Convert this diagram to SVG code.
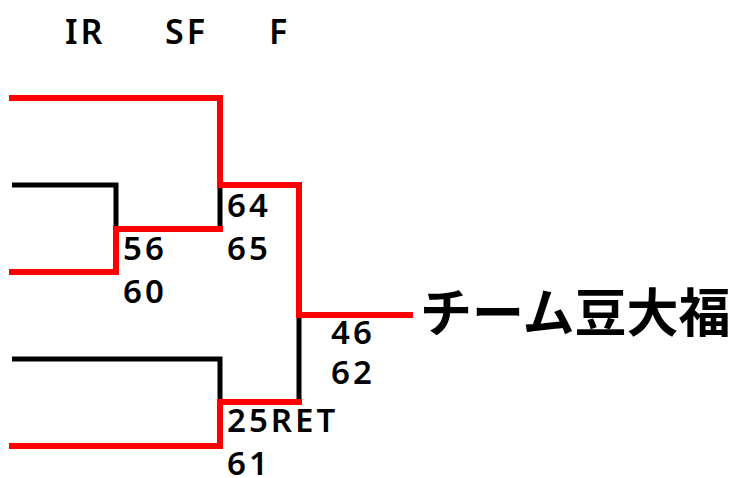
<svg xmlns="http://www.w3.org/2000/svg" width="732" height="478" viewBox="0 0 732 478">
<style>
.r{fill:none;stroke:#ff0000;stroke-width:6;stroke-linejoin:miter;stroke-linecap:square}
.k{fill:none;stroke:#000;stroke-width:5;stroke-linecap:butt}
.t{font-family:"Noto Sans","DejaVu Sans",sans-serif;font-size:33px;font-weight:600;fill:#000;letter-spacing:3px}
.h{font-family:"Noto Sans","DejaVu Sans",sans-serif;font-size:34px;font-weight:600;fill:#000;letter-spacing:3px}
.w{font-family:"Noto Sans CJK JP",sans-serif;font-size:52px;font-weight:bold;fill:#000}
</style>
<rect width="732" height="478" fill="#fff"/>
<g id="connectors">
<path class="k" d="M12 185H116V229"/>
<path class="k" d="M220 185V229"/>
<path class="k" d="M12 359H220V402"/>
<path class="k" d="M299 315V402"/>
<path class="r" d="M12 98H220V185H299V315H410"/>
<path class="r" d="M12 272H116V229H220"/>
<path class="r" d="M12 446H220V402H299"/>
</g>
<g id="headers">
<text class="h" x="65" y="44" letter-spacing="10">IR</text>
<text class="h" x="165" y="44">SF</text>
<text class="h" x="269" y="44">F</text>
</g>
<g id="scores">
<text class="t" x="227" y="217">64</text>
<text class="t" x="227" y="260">65</text>
<text class="t" x="123" y="260">56</text>
<text class="t" x="123" y="303">60</text>
<text class="t" x="331" y="344">46</text>
<text class="t" x="331" y="384">62</text>
<text class="t" x="227" y="432">25RET</text>
<text class="t" x="227" y="475">61</text>
</g>
<g id="winner">
<text class="w" x="420" y="332">チーム豆大福</text>
</g>
</svg>
